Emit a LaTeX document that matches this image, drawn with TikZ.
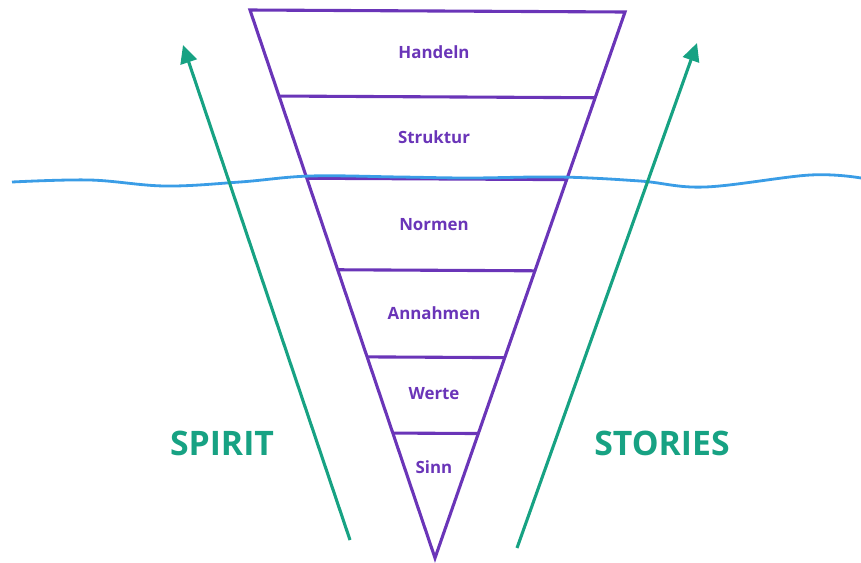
\documentclass[tikz,border=0pt]{standalone}
\usepackage{fontspec}
\setmainfont{Open Sans}
\usetikzlibrary{calc,arrows.meta}

\definecolor{funnelpurple}{HTML}{6A35B8}
\definecolor{flowteal}{HTML}{17A283}
\definecolor{waveblue}{HTML}{3A9DE6}

\tikzset{
  funnel/.style={draw=funnelpurple, line width=2.2pt, line join=miter},
  layer/.style={text=funnelpurple, font=\bfseries\fontsize{12}{14}\selectfont},
  side/.style={text=flowteal, font=\bfseries\fontsize{24}{28}\selectfont},
  flow/.style={draw=flowteal, line width=2.2pt, -{Triangle[length=0.45cm,width=0.42cm]}},
  wave/.style={draw=waveblue, line width=2pt}
}

\begin{document}
\begin{tikzpicture}[x=0.025cm, y=-0.025cm]
  \useasboundingbox (0,0) rectangle (861,562);

  % funnel outline
  \coordinate (tl) at (250,10);
  \coordinate (tr) at (625,12);
  \coordinate (apex) at (435,558);
  \draw[funnel] (tl) -- (tr) -- (apex) -- cycle;
  \foreach \t in {0.157,0.307,0.474,0.633,0.772} {
    \draw[funnel] ($(tl)!\t!(apex)$) -- ($(tr)!\t!(apex)$);
  }

  % layer labels
  \foreach \name/\y/\lab in {handeln/52/Handeln, struktur/137/Struktur,
      normen/225/Normen, annahmen/313/Annahmen, werte/394/Werte, sinn/467/Sinn} {
    \node[layer] (\name) at (434,\y) {\lab};
  }

  % water line
  \draw[wave] plot[smooth, tension=0.6] coordinates {(12,182) (90,180) (165,186)
    (240,182) (310,176) (400,177) (470,178) (560,177) (640,181) (705,187)
    (810,175) (861,178)};

  % spirit and stories
  \coordinate (spiritfoot) at (350,540);
  \coordinate (spirittip) at (183,45);
  \coordinate (storiesfoot) at (517,548);
  \coordinate (storiestip) at (697,43);
  \draw[flow] (spiritfoot) -- (spirittip);
  \draw[flow] (storiesfoot) -- (storiestip);

  \node[side] (spirit) at (222,443) {SPIRIT};
  \node[side] (stories) at (662,443) {STORIES};
\end{tikzpicture}
\end{document}
